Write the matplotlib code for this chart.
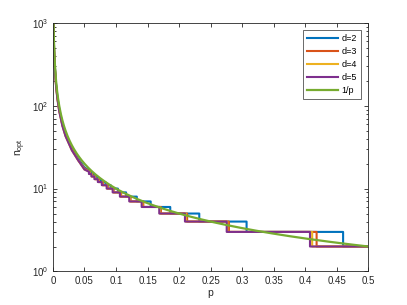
import numpy as np
import matplotlib
matplotlib.use("Agg")
import matplotlib.pyplot as plt
from matplotlib.ticker import LogLocator, NullFormatter

# p values where the optimal n jumps from n to n+1 (n = 2, 3, 4, ...)
n_start = 2
thresh_d2 = [0.460, 0.307, 0.232, 0.186, 0.155, 0.133, 0.116, 0.103, 0.0915, 0.0833, 0.0763, 0.0704, 0.0654, 0.061]
thresh_d3 = [0.418, 0.279, 0.2128, 0.1712, 0.1433, 0.1232, 0.1081, 0.0963, 0.0870, 0.0792, 0.0727, 0.0672, 0.0624, 0.0583]
thresh_d4 = [0.411, 0.2765, 0.2105, 0.1695, 0.1418, 0.1220, 0.1070, 0.0953, 0.0859, 0.0782, 0.0718, 0.0664, 0.0617, 0.0577]
thresh_d5 = [0.4075, 0.2755, 0.2093, 0.1686, 0.1407, 0.1210, 0.1062, 0.0947, 0.0852, 0.0775, 0.0712, 0.0658, 0.0610, 0.0571]

# small-p part, where the steps get too fine to read one by one
tail_p = [0.05, 0.04, 0.03, 0.02, 0.015, 0.01, 0.007, 0.005, 0.003, 0.002, 0.0015, 0.001, 0.0008]
tail_d2 = [18, 23, 31, 46, 61, 92, 131, 183, 306, 459, 612, 917, 1150]
tail_d3 = [17.5, 22, 30, 44, 59, 88, 126, 177, 295, 442, 590, 885, 1110]
tail_d4 = [17, 22, 29, 43, 58, 87, 124, 174, 290, 436, 582, 872, 1090]
tail_d5 = [17, 22, 29, 43, 57, 86, 123, 172, 287, 431, 575, 862, 1080]

p_max = 0.5
colors = ["#0072BD", "#D95319", "#EDB120", "#7E2F8E", "#77AC30"]


def step_curve(thresh, tail_x, tail_y):
    xs = [p_max]
    ys = [n_start]
    n = n_start
    for t in thresh:
        xs += [t, t]
        ys += [n, n + 1]
        n += 1
    xs += tail_x
    ys += tail_y
    return np.array(xs), np.array(ys)


plt.rcParams['font.family'] = ['Liberation Sans', 'DejaVu Sans']
plt.rcParams['mathtext.fontset'] = 'custom'
plt.rcParams['mathtext.rm'] = 'Liberation Sans'
plt.rcParams['mathtext.it'] = 'Liberation Sans'

fig = plt.figure(figsize=(4.07, 3.05), dpi=100)
ax = fig.add_axes([0.13, 0.11, 0.775, 0.815])

series = [
    ("d=2", thresh_d2, tail_d2),
    ("d=3", thresh_d3, tail_d3),
    ("d=4", thresh_d4, tail_d4),
    ("d=5", thresh_d5, tail_d5),
]
for (label, th, tl), c in zip(series, colors):
    x, y = step_curve(th, tail_p, tl)
    ax.plot(x, y, color=c, lw=1.5, label=label)

p_grid = np.linspace(0.0009, p_max, 600)
ax.plot(p_grid, 1 / p_grid, color=colors[4], lw=1.6, label="1/p")

ax.set_yscale("log")
ax.set_xlim(0, 0.5)
ax.set_ylim(1, 1000)
ax.set_xticks(np.arange(0, 0.501, 0.05))
ax.set_xticklabels(["0", "0.05", "0.1", "0.15", "0.2", "0.25", "0.3", "0.35", "0.4", "0.45", "0.5"])
ax.yaxis.set_major_locator(LogLocator(base=10))
ax.yaxis.set_minor_locator(LogLocator(base=10, subs=np.arange(2, 10)))
ax.yaxis.set_minor_formatter(NullFormatter())

axis_col = "#262626"
for s in ax.spines.values():
    s.set_color(axis_col)
    s.set_linewidth(0.6)
ax.tick_params(which="both", direction="in", top=True, right=True, colors=axis_col,
               labelsize=7, width=0.6, pad=3)
ax.tick_params(which="major", length=3)
ax.tick_params(which="minor", length=1.8)

ax.set_xlabel("p", fontsize=7.5, color=axis_col, labelpad=2)
ax.set_ylabel(r"$\mathregular{n_{opt}}$", fontsize=7.5, color=axis_col, labelpad=3)

leg = ax.legend(loc="upper right", fontsize=6.5, frameon=True, fancybox=False,
                handlelength=3.4, handletextpad=0.4, borderpad=0.45, labelspacing=0.45,
                borderaxespad=0.8)
leg.get_frame().set_edgecolor(axis_col)
leg.get_frame().set_linewidth(0.6)

fig.savefig("out.png", dpi=100)
